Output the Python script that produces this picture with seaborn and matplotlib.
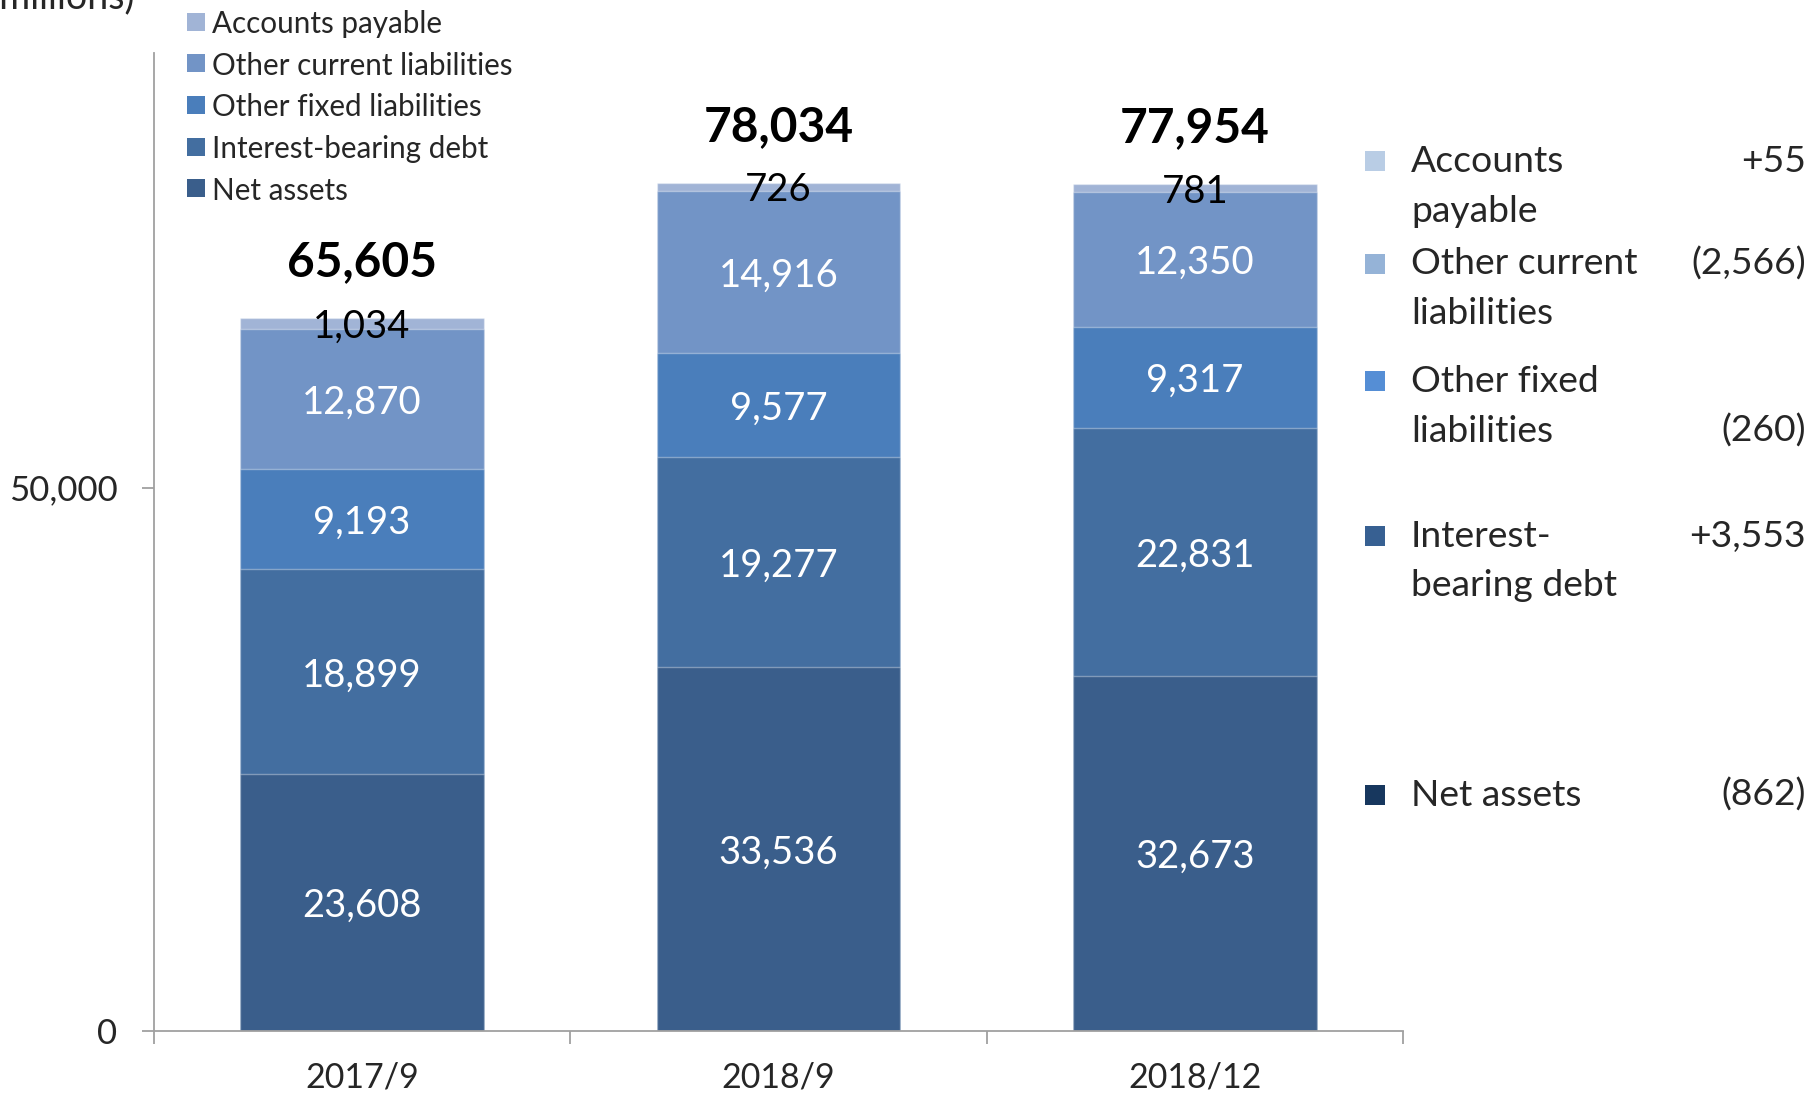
import numpy as np
import pandas as pd
import matplotlib
matplotlib.use("Agg")
import matplotlib.pyplot as plt
from matplotlib.patches import Rectangle
import seaborn as sns

# ---- data ----
periods = ["2017/9", "2018/9", "2018/12"]
net_assets = [23608, 33536, 32673]
interest_bearing_debt = [18899, 19277, 22831]
other_fixed_liabilities = [9193, 9577, 9317]
other_current_liabilities = [12870, 14916, 12350]
accounts_payable = [1034, 726, 781]
totals = [65605, 78034, 77954]

series_names = ["Net assets", "Interest-bearing debt", "Other fixed liabilities",
                "Other current liabilities", "Accounts payable"]
series_values = [net_assets, interest_bearing_debt, other_fixed_liabilities,
                 other_current_liabilities, accounts_payable]
bar_colors = ["#3A5E8B", "#436EA0", "#4A7EBB", "#7294C6", "#A1B4D6"]

# change from 2018/9 to 2018/12
change_names = [["Accounts", "payable"], ["Other current", "liabilities"],
                ["Other fixed", "liabilities"], ["Interest-", "bearing debt"], ["Net assets"]]
change_values = ["+55", "(2,566)", "(260)", "+3,553", "(862)"]
change_colors = ["#B9CDE5", "#95B3D7", "#558ED5", "#376092", "#17375E"]

# ---- style ----
sns.set_style("white")
plt.rcParams["font.family"] = ["Lato", "DejaVu Sans"]

W, H = 1812, 1096
fig = plt.figure(figsize=(W / 100, H / 100), dpi=100)


def fx(px):
    return px / W


def fy(py):
    return 1 - py / H


ax = fig.add_axes([fx(153.7), fy(1031), fx(1403) - fx(153.7), fy(53) - fy(1031)])

# stacked bars: draw cumulative heights from the top layer down
cum = np.cumsum(np.array(series_values, dtype=float), axis=0)
for i in reversed(range(len(series_names))):
    df = pd.DataFrame({"period": periods, "value": cum[i]})
    sns.barplot(data=df, x="period", y="value", color=bar_colors[i], width=0.585,
                saturation=1, errorbar=None, ax=ax,
                edgecolor=(1, 1, 1, 0.35), linewidth=1.0)

# segment labels
for i, vals in enumerate(series_values):
    for j, v in enumerate(vals):
        base = cum[i][j] - v
        ax.text(j, base + v / 2, f"{v:,}", ha="center", va="center_baseline",
                fontsize=27.5, color="black" if i == len(series_values) - 1 else "white")

# totals above bars
for j, t in enumerate(totals):
    ax.annotate(f"{t:,}", xy=(j, t), xytext=(0, 43), textcoords="offset points",
                ha="center", va="center_baseline", fontsize=34.5, fontweight="bold",
                color="black")

# axes styling
spine_color = "#A0A0A0"
ax.set_xlim(-0.5, 2.5)
ax.set_ylim(0, 90000)
ax.set_yticks([0, 50000])
ax.set_yticklabels([f"{v:,}" for v in [0, 50000]])
ax.set_xlabel("")
ax.set_ylabel("")
for side in ["top", "right"]:
    ax.spines[side].set_visible(False)
for side in ["left", "bottom"]:
    ax.spines[side].set_color(spine_color)
    ax.spines[side].set_linewidth(1.3)
ax.tick_params(axis="y", which="major", direction="out", length=9, width=1.3,
               color=spine_color, labelsize=25, pad=17, left=True)
ax.set_xticks([-0.5, 0.5, 1.5, 2.5], minor=True)
ax.tick_params(axis="x", which="minor", direction="out", length=9.5, width=1.3,
               color=spine_color, bottom=True)
ax.tick_params(axis="x", which="major", length=0, labelsize=24.5, pad=22)

# y-axis unit
fig.text(fx(134), fy(8), "(¥ millions)", ha="right", va="baseline", fontsize=27)

# series key, upper left
key_rows = list(zip(series_names, bar_colors))[::-1]
for k, (name, col) in enumerate(key_rows):
    yc = 22 + 41.5 * k
    fig.patches.append(Rectangle((fx(187), fy(yc + 9)), fx(18), 18 / H,
                                 transform=fig.transFigure, facecolor=col,
                                 edgecolor="none"))
    fig.text(fx(212.5), fy(yc), name, ha="left", va="center_baseline", fontsize=21.3)

# change key, right side
row_y = [158, 261, 378, 533, 792]
value_line = [0, 0, 1, 0, 0]
for k in range(len(change_names)):
    y0 = row_y[k]
    fig.patches.append(Rectangle((fx(1365), fy(y0 + 13)), fx(20), 20 / H,
                                 transform=fig.transFigure, facecolor=change_colors[k],
                                 edgecolor="none"))
    for li, line in enumerate(change_names[k]):
        fig.text(fx(1411), fy(y0 + 50 * li), line, ha="left", va="center_baseline",
                 fontsize=26.8)
    fig.text(fx(1806), fy(y0 + 50 * value_line[k]), change_values[k], ha="right",
             va="center_baseline", fontsize=26.8)

fig.savefig("out.png", dpi=100)
